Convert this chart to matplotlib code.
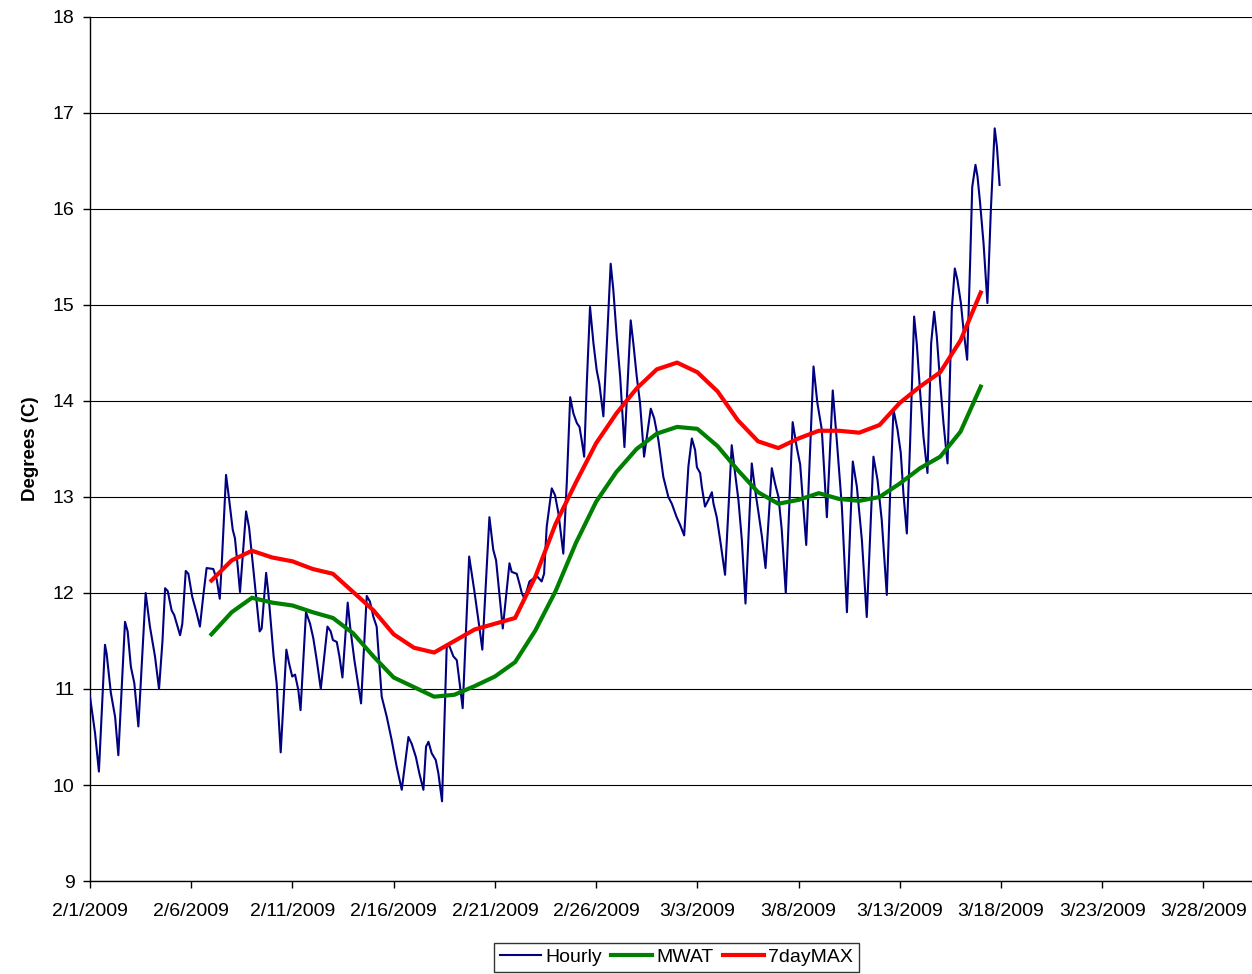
import numpy as np
import matplotlib
matplotlib.use('Agg')
import matplotlib.pyplot as plt

plt.rcParams['font.family'] = ['Liberation Sans', 'DejaVu Sans']

# Hourly water temperature, x in days after 2/1/2009 00:00 (peaks and troughs of each daily cycle)
hourly_day = [
    0.00, 0.25, 0.44, 0.74, 0.82, 1.03, 1.24, 1.40, 1.73, 1.86, 2.02, 2.19, 2.39, 2.75, 2.96, 3.21,
    3.41, 3.58, 3.71, 3.84, 4.03, 4.16, 4.45, 4.56, 4.73, 4.86, 5.05, 5.27, 5.43, 5.60, 5.76, 6.09,
    6.26, 6.41, 6.51, 6.72, 6.87, 7.05, 7.16, 7.30, 7.41, 7.71, 7.86, 7.99, 8.19, 8.38, 8.48, 8.70,
    8.81, 9.07, 9.22, 9.42, 9.70, 9.83, 9.99, 10.13, 10.29, 10.40, 10.67, 10.87, 11.03, 11.20, 11.40,
    11.73, 11.89, 12.00, 12.19, 12.32, 12.47, 12.73, 12.85, 13.06, 13.39, 13.67, 13.83, 14.00, 14.16,
    14.41, 14.66, 14.90, 15.15, 15.40, 15.73, 15.89, 16.10, 16.27, 16.47, 16.60, 16.72, 16.88, 17.08,
    17.21, 17.39, 17.62, 17.75, 17.95, 18.12, 18.28, 18.41, 18.73, 18.98, 19.23, 19.38, 19.73, 19.92,
    20.06, 20.17, 20.39, 20.72, 20.83, 21.08, 21.21, 21.33, 21.46, 21.71, 21.90, 22.10, 22.31, 22.43,
    22.56, 22.81, 22.97, 23.14, 23.38, 23.55, 23.72, 23.88, 24.05, 24.18, 24.29, 24.41, 24.54, 24.70,
    24.87, 25.03, 25.16, 25.36, 25.72, 25.85, 26.02, 26.19, 26.40, 26.71, 26.84, 27.01, 27.17, 27.37,
    27.70, 27.87, 28.08, 28.32, 28.57, 28.74, 28.98, 29.15, 29.35, 29.56, 29.73, 29.89, 29.98, 30.14,
    30.22, 30.38, 30.55, 30.72, 30.80, 30.96, 31.13, 31.37, 31.70, 31.87, 32.03, 32.20, 32.38, 32.69,
    32.85, 33.02, 33.19, 33.37, 33.68, 33.84, 34.01, 34.17, 34.37, 34.71, 34.91, 35.08, 35.38, 35.74,
    35.93, 36.15, 36.40, 36.69, 36.89, 37.14, 37.39, 37.68, 37.88, 38.13, 38.37, 38.70, 38.90, 39.11,
    39.36, 39.53, 39.69, 39.89, 40.05, 40.18, 40.35, 40.51, 40.71, 40.84, 41.01, 41.17, 41.37, 41.55,
    41.70, 41.83, 42.00, 42.16, 42.36, 42.57, 42.72, 42.85, 43.02, 43.15, 43.33, 43.48, 43.58, 43.74,
    43.84, 43.97, 44.14, 44.33, 44.50, 44.69, 44.80, 44.93,
]
hourly_temp = [
    10.92, 10.54, 10.14, 11.46, 11.37, 10.96, 10.71, 10.31, 11.70, 11.60, 11.23, 11.06, 10.61, 12.00, 11.65, 11.34,
    11.00, 11.50, 12.05, 12.02, 11.82, 11.77, 11.56, 11.68, 12.23, 12.20, 11.96, 11.79, 11.65, 11.98, 12.26, 12.25,
    12.14, 11.94, 12.31, 13.23, 12.98, 12.66, 12.57, 12.27, 12.01, 12.85, 12.68, 12.41, 12.00, 11.60, 11.63, 12.21,
    12.00, 11.34, 11.06, 10.34, 11.41, 11.27, 11.13, 11.15, 10.99, 10.78, 11.80, 11.68, 11.53, 11.30, 11.00,
    11.65, 11.60, 11.51, 11.49, 11.34, 11.12, 11.90, 11.65, 11.30, 10.85, 11.97, 11.91, 11.75, 11.65,
    10.92, 10.71, 10.47, 10.19, 9.95, 10.50, 10.43, 10.29, 10.12, 9.95, 10.40, 10.45, 10.33, 10.26,
    10.12, 9.83, 11.44, 11.45, 11.34, 11.30, 11.02, 10.80, 12.38, 12.03, 11.65, 11.41, 12.79, 12.45,
    12.34, 12.10, 11.63, 12.31, 12.22, 12.20, 12.10, 12.00, 11.94, 12.12, 12.15, 12.17, 12.12, 12.20,
    12.69, 13.09, 13.02, 12.83, 12.41, 13.14, 14.04, 13.87, 13.77, 13.73, 13.59, 13.42, 14.18, 14.98,
    14.60, 14.32, 14.18, 13.84, 15.43, 15.16, 14.67, 14.25, 13.52, 14.84, 14.60, 14.25, 13.98, 13.42,
    13.92, 13.82, 13.59, 13.21, 13.00, 12.93, 12.79, 12.71, 12.60, 13.32, 13.61, 13.49, 13.31, 13.25,
    13.11, 12.90, 12.97, 13.05, 12.93, 12.79, 12.55, 12.19, 13.54, 13.24, 12.97, 12.55, 11.89, 13.35,
    13.08, 12.84, 12.59, 12.26, 13.30, 13.14, 13.00, 12.66, 12.00, 13.78, 13.52, 13.34, 12.50, 14.36,
    13.98, 13.70, 12.79, 14.11, 13.59, 12.90, 11.80, 13.37, 13.11, 12.55, 11.75, 13.42, 13.18, 12.76,
    11.98, 13.07, 13.91, 13.70, 13.46, 13.04, 12.62, 13.56, 14.88, 14.60, 14.08, 13.63, 13.25, 14.60,
    14.93, 14.67, 14.18, 13.77, 13.35, 14.95, 15.38, 15.26, 15.02, 14.74, 14.43, 15.47, 16.23, 16.46,
    16.34, 16.06, 15.64, 15.02, 15.99, 16.84, 16.65, 16.25,
]

# Daily rolling statistics, days 6 (2/7) to 44 (3/17)
daily_day = list(range(6, 45))
mwat = [
    11.57, 11.80, 11.95, 11.90, 11.87, 11.80, 11.74, 11.58, 11.34, 11.12,
    11.02, 10.92, 10.94, 11.03, 11.13, 11.28, 11.61, 12.02, 12.52, 12.95,
    13.26, 13.50, 13.66, 13.73, 13.71, 13.53, 13.28, 13.05, 12.93, 12.97,
    13.04, 12.98, 12.96, 13.00, 13.14, 13.30, 13.42, 13.68, 14.15,
]
max7day = [
    12.13, 12.34, 12.44, 12.37, 12.33, 12.25, 12.20, 12.01, 11.82, 11.57,
    11.43, 11.38, 11.50, 11.62, 11.68, 11.74, 12.17, 12.72, 13.15, 13.56,
    13.87, 14.13, 14.33, 14.40, 14.30, 14.10, 13.80, 13.58, 13.51, 13.61,
    13.69, 13.69, 13.67, 13.75, 13.98, 14.15, 14.30, 14.63, 15.13,
]

tick_days = [0, 5, 10, 15, 20, 25, 30, 35, 40, 45, 50, 55]
tick_labels = ['2/1/2009', '2/6/2009', '2/11/2009', '2/16/2009', '2/21/2009', '2/26/2009',
               '3/3/2009', '3/8/2009', '3/13/2009', '3/18/2009', '3/23/2009', '3/28/2009']

fig = plt.figure(figsize=(12.52, 9.74), dpi=100)
ax = fig.add_axes([90 / 1252, 93 / 974, 1162 / 1252, 864 / 974])

ax.plot(hourly_day, hourly_temp, color='#000080', lw=1.5, label='Hourly', zorder=3)
ax.plot(daily_day, mwat, color='#008000', lw=3, label='MWAT', zorder=4)
ax.plot(daily_day, max7day, color='#ff0000', lw=3, label='7dayMAX', zorder=5)

ax.set_xlim(0, 57.4)
ax.set_ylim(9, 18)
ax.set_yticks(range(9, 19))
ax.set_xticks(tick_days)
ax.set_xticklabels(tick_labels)
ax.yaxis.grid(True, color='black', lw=0.8)
ax.set_axisbelow(True)

for side in ['top', 'right']:
    ax.spines[side].set_visible(False)
ax.spines['left'].set_linewidth(1.0)
ax.spines['bottom'].set_linewidth(1.0)
ax.tick_params(axis='both', direction='out', length=5, width=1, labelsize=14, color='black')
ax.tick_params(axis='x', pad=11)
ax.tick_params(axis='y', pad=6)

ax.set_ylabel('Degrees (C)', fontsize=13.5, fontweight='bold', labelpad=10)

leg = fig.legend(loc='lower center', bbox_to_anchor=(676.5 / 1252, 2 / 974), ncol=3,
                 fontsize=14, frameon=True, fancybox=False, edgecolor='black',
                 handlelength=2.1, handletextpad=0.2, columnspacing=0.5,
                 borderpad=0.3, borderaxespad=0)
leg.get_frame().set_linewidth(1.0)

fig.savefig('out.png', dpi=100)
